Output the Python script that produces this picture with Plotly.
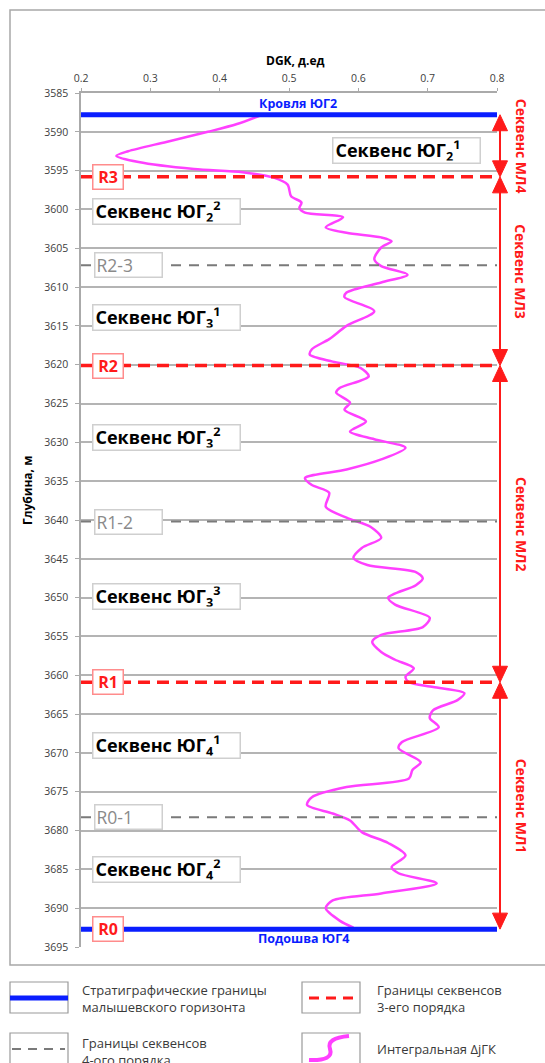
import plotly.graph_objects as go

# ---------------- data ----------------
depth = [3587.8, 3589.0, 3590.0, 3591.3, 3592.5, 3593.1, 3593.9, 3594.8, 3595.2, 3595.9,
         3596.8, 3598.3, 3599.1, 3599.8, 3600.4, 3601.0, 3602.3, 3603.0, 3603.6, 3604.1,
         3604.9, 3606.4, 3607.3, 3608.4, 3609.4, 3610.7, 3611.3, 3613.1, 3615.0, 3616.7,
         3618.0, 3618.7, 3619.6, 3620.4, 3621.5, 3623.0, 3623.6, 3624.9, 3625.8, 3627.3,
         3628.6, 3629.6, 3630.7, 3632.2, 3633.5, 3634.6, 3635.5, 3636.5, 3638.3, 3639.7,
         3640.9, 3642.3, 3643.6, 3644.9, 3645.8, 3646.7, 3647.5, 3648.4, 3650.0, 3650.9,
         3652.6, 3653.8, 3654.8, 3655.7, 3657.0, 3658.0, 3659.1, 3660.2, 3660.9, 3661.5,
         3662.3, 3663.2, 3664.5, 3665.5, 3666.7, 3668.6, 3669.4, 3671.2, 3672.2, 3673.3,
         3674.4, 3675.7, 3676.7, 3677.8, 3678.7, 3680.2, 3681.6, 3683.2, 3684.7, 3685.5,
         3686.8, 3688.1, 3689.0, 3690.0, 3691.6, 3692.5]
dgk = [0.461, 0.425, 0.383, 0.323, 0.268, 0.251, 0.283, 0.363, 0.433, 0.478,
       0.498, 0.503, 0.518, 0.515, 0.523, 0.578, 0.553, 0.583, 0.633, 0.648,
       0.633, 0.623, 0.633, 0.671, 0.633, 0.583, 0.580, 0.623, 0.583, 0.558,
       0.533, 0.530, 0.563, 0.603, 0.615, 0.573, 0.568, 0.588, 0.580, 0.611,
       0.588, 0.623, 0.668, 0.633, 0.583, 0.523, 0.533, 0.558, 0.553, 0.583,
       0.618, 0.633, 0.605, 0.593, 0.613, 0.683, 0.693, 0.683, 0.643, 0.653,
       0.703, 0.693, 0.633, 0.620, 0.633, 0.653, 0.680, 0.668, 0.673, 0.708,
       0.753, 0.743, 0.708, 0.703, 0.716, 0.663, 0.658, 0.690, 0.678, 0.673,
       0.583, 0.533, 0.526, 0.563, 0.588, 0.605, 0.643, 0.668, 0.648, 0.658,
       0.713, 0.633, 0.563, 0.553, 0.573, 0.593]

strat_depths = [3587.8, 3692.7]
strat_labels = ["Кровля ЮГ2", "Подошва ЮГ4"]
seq3_depths = [3595.8, 3620.1, 3660.9]
seq3_labels = ["R3", "R2", "R1"]
bottom_label = "R0"
seq4_depths = [3607.2, 3640.2, 3678.3]
seq4_labels = ["R2-3", "R1-2", "R0-1"]

seq_name_depths = [3592.4, 3600.3, 3613.9, 3629.4, 3649.9, 3669.1, 3685.0]
seq_names = ["Секвенс ЮГ<sub>2</sub><sup>1</sup>", "Секвенс ЮГ<sub>2</sub><sup>2</sup>",
             "Секвенс ЮГ<sub>3</sub><sup>1</sup>", "Секвенс ЮГ<sub>3</sub><sup>2</sup>",
             "Секвенс ЮГ<sub>3</sub><sup>3</sup>", "Секвенс ЮГ<sub>4</sub><sup>1</sup>",
             "Секвенс ЮГ<sub>4</sub><sup>2</sup>"]
ml_names = ["Секвенс МЛ4", "Секвенс МЛ3", "Секвенс МЛ2", "Секвенс МЛ1"]

x_range = [0.2, 0.8]
y_range = [3695, 3585]
x_ticks = [0.2, 0.3, 0.4, 0.5, 0.6, 0.7, 0.8]

# ---------------- layout geometry (pixels) ----------------
WIDTH, HEIGHT = 545, 1063
L, R, T, B = 81, 497, 93, 947
PW, PH = R - L, B - T
ppm = PH / (y_range[0] - y_range[1])  # pixels per metre


def px(x):
    return (x - L) / PW


def py(y):
    return (B - y) / PH


FONT = "Open Sans"
BLUE = "#0a1eff"
RED = "#ff1a1a"
GRAY = "#7a7a7a"
PINK = "#ff40ff"

fig = go.Figure()

# curve
fig.add_trace(go.Scatter(x=dgk, y=depth, mode="lines",
                         line=dict(color=PINK, width=2.5, shape="spline", smoothing=0.8),
                         hoverinfo="skip", showlegend=False))

# 4th order boundaries
for d in seq4_depths:
    fig.add_trace(go.Scatter(x=x_range, y=[d, d], mode="lines",
                             line=dict(color=GRAY, width=2, dash="10px,8px"),
                             showlegend=False, hoverinfo="skip"))
# 3rd order boundaries
for d in seq3_depths:
    fig.add_trace(go.Scatter(x=x_range, y=[d, d], mode="lines",
                             line=dict(color=RED, width=3.5, dash="12px,7px"),
                             showlegend=False, hoverinfo="skip"))
# stratigraphic
for d in strat_depths:
    fig.add_trace(go.Scatter(x=x_range, y=[d, d], mode="lines",
                             line=dict(color=BLUE, width=5),
                             showlegend=False, hoverinfo="skip"))

shapes = []
ann = []

# outer frame
shapes.append(dict(type="rect", xref="paper", yref="paper", x0=px(10), x1=px(600),
                   y0=py(965), y1=py(10), line=dict(color="#a8a8a8", width=1.5)))

# stratigraphic labels
ann.append(dict(x=px(298), y=strat_depths[0], xref="paper", yref="y", text="<b>" + strat_labels[0] + "</b>",
                showarrow=False, yshift=11, xanchor="center", yanchor="middle",
                font=dict(family=FONT, size=12.5, color=BLUE)))
ann.append(dict(x=px(303), y=strat_depths[1], xref="paper", yref="y", text="<b>" + strat_labels[1] + "</b>",
                showarrow=False, yshift=-9, xanchor="center", yanchor="middle",
                font=dict(family=FONT, size=12.5, color=BLUE)))

# R labels
for d, t in zip(seq3_depths + [strat_depths[1]], seq3_labels + [bottom_label]):
    ann.append(dict(x=px(92), y=d, xref="paper", yref="y", xanchor="left", text="<b>" + t + "</b>",
                    showarrow=False, font=dict(family=FONT, size=16, color=RED),
                    bgcolor="white", bordercolor="#ff8c8c", borderwidth=1.5, borderpad=1,
                    width=27, height=21))
for d, t in zip(seq4_depths, seq4_labels):
    ann.append(dict(x=px(94), y=d, xref="paper", yref="y", xanchor="left", text=t,
                    showarrow=False, font=dict(family=FONT, size=17.5, color="#8a8a8a"),
                    bgcolor="white", bordercolor="#cfcfcf", borderwidth=1.5, borderpad=1,
                    width=64, height=21, align="left"))

# sequence name boxes
for i, (d, t) in enumerate(zip(seq_name_depths, seq_names)):
    x0 = 332 if i == 0 else 92
    ann.append(dict(x=px(x0), y=d, xref="paper", yref="y", xanchor="left", text="<b>" + t + "</b>",
                    showarrow=False, font=dict(family=FONT, size=18, color="black"),
                    bgcolor="white", bordercolor="#cfcfcf", borderwidth=1.5, borderpad=2,
                    width=142, height=20, align="left"))

# ML arrows at right
bounds = [strat_depths[0]] + seq3_depths + [strat_depths[1]]
ax = px(500)
hw = 7.5 / PW          # half width of arrow head (paper)
hh = 16 / ppm          # arrow head height (metres)
for i, name in enumerate(ml_names):
    top, bot = bounds[i], bounds[i + 1]
    shapes.append(dict(type="line", xref="paper", yref="y", x0=ax, x1=ax,
                       y0=top + hh * 0.5, y1=bot - hh * 0.5, line=dict(color=RED, width=2)))
    shapes.append(dict(type="path", xref="paper", yref="y",
                       path=f"M {ax},{top} L {ax - hw},{top + hh} L {ax + hw},{top + hh} Z",
                       fillcolor=RED, line=dict(color=RED, width=1)))
    shapes.append(dict(type="path", xref="paper", yref="y",
                       path=f"M {ax},{bot} L {ax - hw},{bot - hh} L {ax + hw},{bot - hh} Z",
                       fillcolor=RED, line=dict(color=RED, width=1)))
    ann.append(dict(x=px(521), y=(top + bot) / 2, xref="paper", yref="y", text="<b>" + name + "</b>",
                    textangle=90, showarrow=False, xanchor="center", yanchor="middle",
                    font=dict(family=FONT, size=14, color=RED)))

# axis titles
ann.append(dict(x=px(295), y=py(60), xref="paper", yref="paper", text="<b>DGK, д.ед</b>",
                xanchor="center", yanchor="middle",
                showarrow=False, font=dict(family=FONT, size=12, color="black")))
ann.append(dict(x=px(28), y=py(491), xref="paper", yref="paper", text="<b>Глубина, м</b>", textangle=-90,
                xanchor="center", yanchor="middle",
                showarrow=False, font=dict(family=FONT, size=12, color="black")))

# ---------------- legend below ----------------
def rect(x0, y0, x1, y1):
    shapes.append(dict(type="rect", xref="paper", yref="paper", x0=px(x0), x1=px(x1),
                       y0=py(y1), y1=py(y0), line=dict(color="#9a9a9a", width=1.2),
                       fillcolor="white"))


rect(10, 982, 68, 1013)
rect(302, 982, 360, 1013)
rect(10, 1033, 68, 1080)
rect(302, 1033, 360, 1080)
shapes.append(dict(type="line", xref="paper", yref="paper", x0=px(10), x1=px(68), y0=py(998), y1=py(998),
                   line=dict(color=BLUE, width=5)))
shapes.append(dict(type="line", xref="paper", yref="paper", x0=px(309), x1=px(356), y0=py(998), y1=py(998),
                   line=dict(color=RED, width=3, dash="10px,7px")))
shapes.append(dict(type="line", xref="paper", yref="paper", x0=px(12), x1=px(65), y0=py(1049), y1=py(1049),
                   line=dict(color=GRAY, width=2, dash="9px,7px")))
p = [(309, 1060), (334, 1061), (330, 1049), (326, 1038), (349, 1036)]
s_path = (f"M {px(p[0][0])},{py(p[0][1])} Q {px(p[1][0])},{py(p[1][1])} {px(p[2][0])},{py(p[2][1])} "
          f"Q {px(p[3][0])},{py(p[3][1])} {px(p[4][0])},{py(p[4][1])}")
shapes.append(dict(type="path", xref="paper", yref="paper", path=s_path, line=dict(color=PINK, width=4)))

legend_texts = [(80, 998.5, "Стратиграфические границы<br>малышевского горизонта"),
                (375, 998.5, "Границы секвенсов<br>3-его порядка"),
                (80, 1051.5, "Границы секвенсов<br>4-ого порядка"),
                (375, 1049, "Интегральная ΔjГК")]
for x0, y0, t in legend_texts:
    ann.append(dict(x=px(x0), y=py(y0), xref="paper", yref="paper", xanchor="left", yanchor="middle",
                    text=t, align="left", showarrow=False,
                    font=dict(family=FONT, size=13, color="#3a3a3a")))

fig.update_layout(
    width=WIDTH, height=HEIGHT,
    margin=dict(l=L, r=WIDTH - R, t=T, b=HEIGHT - B, pad=0),
    paper_bgcolor="white", plot_bgcolor="white",
    shapes=shapes, annotations=ann, showlegend=False,
    xaxis=dict(range=x_range, side="top", tickvals=x_ticks, ticktext=[f"{v:.1f}" for v in x_ticks],
               showgrid=False, zeroline=False, showline=True, linecolor="#aaaaaa", linewidth=1.5,
               ticks="outside", ticklen=3, tickcolor="#aaaaaa", ticklabelstandoff=2,
               tickfont=dict(family=FONT, size=10.5, color="#404040")),
    yaxis=dict(range=y_range, tick0=3585, dtick=5, showgrid=True, gridcolor="#b4b4b4", gridwidth=1.5,
               zeroline=False, showline=True, linecolor="#aaaaaa", linewidth=1.5,
               ticks="outside", ticklen=4, tickcolor="#aaaaaa", ticklabelstandoff=5,
               tickfont=dict(family=FONT, size=10.5, color="#404040")),
)

fig.write_html("out.html")
